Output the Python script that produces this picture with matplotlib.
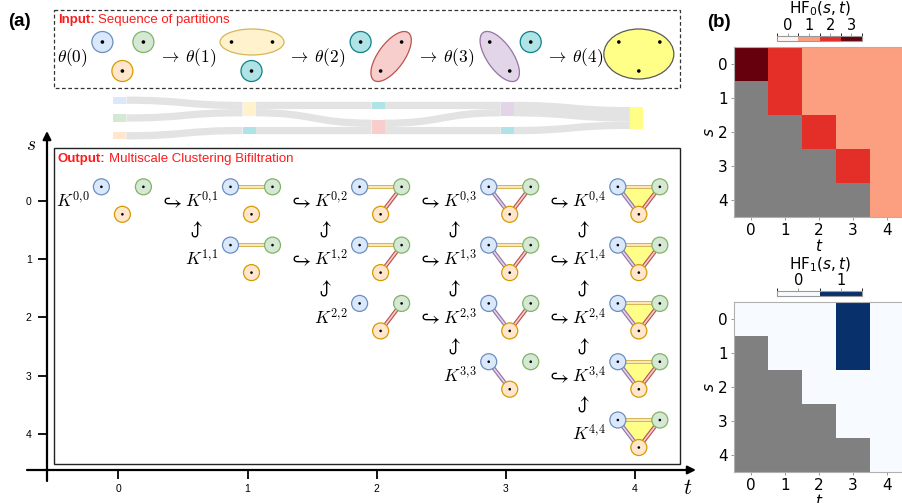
import numpy as np
import matplotlib
matplotlib.use('Agg')
import matplotlib.pyplot as plt
from matplotlib.patches import Ellipse, Circle, Polygon, Rectangle, PathPatch
from matplotlib.path import Path
from matplotlib.colors import ListedColormap, BoundaryNorm

plt.rcParams['mathtext.fontset'] = 'cm'
plt.rcParams['font.family'] = ['Liberation Sans', 'DejaVu Sans']

nan = np.nan
# ---------------- data ----------------
time_ticks = [0, 1, 2, 3, 4]
scale_ticks = [0, 1, 2, 3, 4]
points = ['A', 'B', 'C']
point_colors = {'A': 'blue', 'B': 'green', 'C': 'orange'}
partitions = [
    [['A'], ['B'], ['C']],
    [['A', 'B'], ['C']],
    [['A'], ['B', 'C']],
    [['A', 'C'], ['B']],
    [['A', 'B', 'C']],
]
partition_colors = [
    ['blue', 'green', 'orange'],
    ['yellow', 'teal'],
    ['teal', 'red'],
    ['purple', 'teal'],
    ['lemon'],
]
edge_color_names = {('A', 'B'): 'yellow', ('B', 'C'): 'red', ('A', 'C'): 'purple'}
hf0_values = [[3, 2, 1, 1, 1],
              [nan, 2, 1, 1, 1],
              [nan, nan, 2, 1, 1],
              [nan, nan, nan, 2, 1],
              [nan, nan, nan, nan, 1]]
hf1_values = [[0, 0, 0, 1, 0],
              [nan, 0, 0, 1, 0],
              [nan, nan, 0, 0, 0],
              [nan, nan, nan, 0, 0],
              [nan, nan, nan, nan, 0]]
hf0_levels = [0, 1, 2, 3]
hf1_levels = [0, 1]
hf_tick_labels = ['0', '1', '2', '3', '4']

# ---------------- style ----------------
PALETTE = {
    'blue': ('#dae8fc', '#6c8ebf'),
    'green': ('#d5e8d4', '#82b366'),
    'orange': ('#ffe6cc', '#d79b00'),
    'yellow': ('#fff2cc', '#d6b656'),
    'teal': ('#b0e3e6', '#0e8088'),
    'red': ('#f8cecc', '#b85450'),
    'purple': ('#e1d5e7', '#9673a6'),
    'lemon': ('#ffff88', '#5a5a5a'),
}
HF0_COLORS = ['#fff5f0', '#fc9f81', '#e32f27', '#67000d']
HF1_COLORS = ['#f7fbff', '#08306b']
GRAY = '#808080'
RED = '#ff1a1a'

W, H = 902, 503
fig = plt.figure(figsize=(W / 100, H / 100), dpi=100)


def box(x0, y0, x1, y1):
    return [x0 / W, 1 - y1 / H, (x1 - x0) / W, (y1 - y0) / H]


# ---------------- lower (s,t) axes ----------------
ax = fig.add_axes(box(47, 133, 695, 470))
ax.set_xlim(-0.553, 4.466)
ax.set_ylim(4.617, -1.163)
ax.set_facecolor('none')
for sp in ax.spines.values():
    sp.set_visible(False)
ax.set_xticks(time_ticks)
ax.set_yticks(scale_ticks)
ax.tick_params(axis='both', direction='out', length=6.5, width=1.3,
               labelsize=7.5, color='black')
ax.tick_params(axis='x', pad=3.5)
ax.tick_params(axis='y', pad=4.5)

# ---------------- heatmaps ----------------
hm0 = fig.add_axes(box(734, 47, 904, 217))
hm1 = fig.add_axes(box(734, 302, 904, 472))
cb0 = fig.add_axes(box(777, 35.5, 862, 40.5))
cb1 = fig.add_axes(box(777, 291, 862, 296))


def heatmap(hax, cax, values, colors, levels, title, title_y):
    cmap = ListedColormap(colors)
    cmap.set_bad(GRAY)
    norm = BoundaryNorm(np.arange(-0.5, len(levels)), len(levels))
    data = np.ma.masked_invalid(np.array(values, dtype=float))
    im = hax.imshow(data, cmap=cmap, norm=norm, aspect='auto',
                    interpolation='nearest')
    hax.set_xticks(range(len(hf_tick_labels)))
    hax.set_xticklabels(hf_tick_labels, family='DejaVu Sans')
    hax.set_yticks(range(len(hf_tick_labels)))
    hax.set_yticklabels(hf_tick_labels, family='DejaVu Sans')
    hax.tick_params(labelsize=11, length=2.5, width=0.6, color='#888888', pad=2)
    hax.set_xlabel('$t$', fontsize=11, labelpad=0, math_fontfamily='dejavusans')
    hax.set_ylabel('$s$', fontsize=11, labelpad=1, math_fontfamily='dejavusans')
    for sp in hax.spines.values():
        sp.set_color('#b0b0b0')
        sp.set_linewidth(0.8)
    cb = fig.colorbar(im, cax=cax, orientation='horizontal', ticks=levels)
    cax.xaxis.set_ticks_position('top')
    cax.tick_params(labelsize=10.5, length=2, width=0.6, color='#888888', pad=0)
    for lab in cax.get_xticklabels():
        lab.set_family('DejaVu Sans')
    cb.outline.set_edgecolor('#999999')
    cb.outline.set_linewidth(0.8)
    bb = cax.get_position()
    fig.text(bb.x0 + bb.width / 2, 1 - (title_y / H), title,
             fontsize=11, ha='center', va='center', family='DejaVu Sans',
             math_fontfamily='dejavusans')


heatmap(hm0, cb0, hf0_values, HF0_COLORS, hf0_levels, r'HF$_0(s,t)$', 9)
heatmap(hm1, cb1, hf1_values, HF1_COLORS, hf1_levels, r'HF$_1(s,t)$', 265)

# ---------------- drawing canvas (pixel coords) ----------------
cv = fig.add_axes([0, 0, 1, 1], zorder=10)
cv.set_xlim(0, W)
cv.set_ylim(H, 0)
cv.axis('off')


def to_px(t, s):
    x, y = ax.transData.transform((t, s))
    return x, H - y


def cx(t):
    return to_px(t, 0)[0] + 4


renderer = fig.canvas.get_renderer()


def two_part(x, y, bold, rest):
    t1 = cv.text(x, y, bold, color=RED, fontweight='bold', fontsize=9.5, va='center')
    bb = t1.get_window_extent(renderer)
    cv.text(x + bb.width + 3, y, rest, color=RED, fontsize=9.5, va='center')


cv.text(8, 21, '(a)', fontsize=13.5, fontweight='bold', va='center')
cv.text(707, 22, '(b)', fontsize=13.5, fontweight='bold', va='center')

# boxes
cv.add_patch(Rectangle((54, 10), 626, 78, fill=False, ec='#333333', lw=0.9,
                       ls=(0, (3, 2))))
cv.add_patch(Rectangle((54, 148), 626, 316, fill=False, ec='#222222', lw=1.0))
two_part(58, 20, 'Input:', 'Sequence of partitions')
two_part(58, 159, 'Output:', 'Multiscale Clustering Bifiltration')

# axis arrows
arrow_kw = dict(arrowstyle='-|>', lw=1.6, color='black', mutation_scale=12,
                shrinkA=0, shrinkB=0)
cv.annotate('', xy=(696, 470), xytext=(27, 470), arrowprops=arrow_kw)
cv.annotate('', xy=(47, 131), xytext=(47, 481), arrowprops=arrow_kw)
cv.text(688, 489, '$t$', fontsize=16, ha='center', va='center')
cv.text(31, 146, '$s$', fontsize=14, ha='center', va='center')

# ---------------- input partitions ----------------
IN_Y = 57
in_off = {'A': (-20, -15), 'B': (21, -15), 'C': (0, 14)}
for t, (parts, cols) in enumerate(zip(partitions, partition_colors)):
    x0 = cx(t)
    label = r'$\theta(%d)$' % t if t == 0 else r'$\rightarrow\;\theta(%d)$' % t
    cv.text(x0 - 35, IN_Y + 1, label, ha='right', va='center', fontsize=12.5)
    for members, cname in zip(parts, cols):
        fill, edge = PALETTE[cname]
        pts = np.array([(x0 + in_off[m][0], IN_Y + in_off[m][1]) for m in members])
        if len(members) == 1:
            patch = Circle(pts[0], 10.5, fc=fill, ec=edge, lw=0.9)
        elif len(members) == 2:
            mid = pts.mean(axis=0)
            d = pts[1] - pts[0]
            L = np.hypot(*d)
            ang = np.degrees(np.arctan2(d[1], d[0]))
            patch = Ellipse(mid, L + 23, 26, angle=ang, fc=fill, ec=edge, lw=0.9)
        else:
            patch = Ellipse((x0, IN_Y - 3), 70, 50, fc=fill, ec=edge, lw=0.9)
        cv.add_patch(patch)
        for p in pts:
            cv.add_patch(Circle(p, 1.8, fc='black', ec='none'))

# ---------------- sankey ----------------
UNIT, GAP, MID, NODE_W = 7.3, 10.5, 118, 13
node_boxes = []
for t, parts in enumerate(partitions):
    x = cx(t) - 2.5
    total = sum(len(p) for p in parts) * UNIT + (len(parts) - 1) * GAP
    y = MID - total / 2
    boxes = []
    for p, cname in zip(parts, partition_colors[t]):
        h = len(p) * UNIT
        cv.add_patch(Rectangle((x - NODE_W / 2, y), NODE_W, h,
                               fc=PALETTE[cname][0], ec='none', zorder=3))
        boxes.append((x - NODE_W / 2, x + NODE_W / 2, y, y + h))
        y += h + GAP
    node_boxes.append(boxes)

for t in range(len(partitions) - 1):
    src, dst = partitions[t], partitions[t + 1]
    flows = [(i, j, len(set(a) & set(b))) for i, a in enumerate(src)
             for j, b in enumerate(dst) if set(a) & set(b)]
    out_used = [0.0] * len(src)
    in_used = [0.0] * len(dst)
    src_pos, dst_pos = {}, {}
    for i, j, v in sorted(flows, key=lambda f: (f[0], f[1])):
        src_pos[(i, j)] = node_boxes[t][i][2] + out_used[i]
        out_used[i] += v * UNIT
    for i, j, v in sorted(flows, key=lambda f: (f[1], f[0])):
        dst_pos[(i, j)] = node_boxes[t + 1][j][2] + in_used[j]
        in_used[j] += v * UNIT
    for i, j, v in flows:
        xs = node_boxes[t][i][1]
        xt = node_boxes[t + 1][j][0]
        ys0 = src_pos[(i, j)]
        ys1 = ys0 + v * UNIT
        yt0 = dst_pos[(i, j)]
        yt1 = yt0 + v * UNIT
        xm = (xs + xt) / 2
        verts = [(xs, ys0), (xm, ys0), (xm, yt0), (xt, yt0), (xt, yt1),
                 (xm, yt1), (xm, ys1), (xs, ys1), (xs, ys0)]
        codes = [Path.MOVETO, Path.CURVE4, Path.CURVE4, Path.CURVE4, Path.LINETO,
                 Path.CURVE4, Path.CURVE4, Path.CURVE4, Path.CLOSEPOLY]
        cv.add_patch(PathPatch(Path(verts, codes), fc='#e3e3e3', ec='none', zorder=2))

# ---------------- bifiltration complexes ----------------
cx_off = {'A': (-21, -14), 'B': (21, -14), 'C': (0, 13.5)}
for s in scale_ticks:
    for t in time_ticks:
        if s > t:
            continue
        x0 = cx(t)
        y0 = to_px(0, s)[1]
        pos = {m: (x0 + cx_off[m][0], y0 + cx_off[m][1]) for m in points}
        edges, tris = set(), set()
        for r in range(s, t + 1):
            for c in partitions[r]:
                if len(c) < 2:
                    continue
                for a in range(len(c)):
                    for b in range(a + 1, len(c)):
                        edges.add(tuple(sorted((c[a], c[b]))))
                if len(c) == 3:
                    tris.add(tuple(sorted(c)))
        for tri in tris:
            cv.add_patch(Polygon([pos[m] for m in tri], closed=True,
                                 fc=PALETTE['lemon'][0], ec='none', zorder=4))
        for e in edges:
            fill, edge = PALETTE[edge_color_names[e]]
            xs_ = [pos[e[0]][0], pos[e[1]][0]]
            ys_ = [pos[e[0]][1], pos[e[1]][1]]
            cv.plot(xs_, ys_, color=edge, lw=2.9, solid_capstyle='butt', zorder=5)
            cv.plot(xs_, ys_, color=fill, lw=1.2, solid_capstyle='butt', zorder=6)
        for m in points:
            fill, edge = PALETTE[point_colors[m]]
            cv.add_patch(Circle(pos[m], 8, fc=fill, ec=edge, lw=0.9, zorder=7))
            cv.add_patch(Circle(pos[m], 1.3, fc='black', ec='none', zorder=8))
        klab = cv.text(x0 - 33, y0 + 6.5, r'$K^{%d{,}%d}$' % (s, t), ha='right',
                       va='baseline', fontsize=12.5)
        if t > s:
            kb = klab.get_window_extent(renderer)
            cv.text(kb.x0 - 3, y0 + 7, r'$\hookrightarrow$', ha='right',
                    va='baseline', fontsize=15, math_fontfamily='stix')
        if s + 1 <= t:
            ym = (y0 + to_px(0, s + 1)[1]) / 2 + 1
            cv.text(x0 - 54, ym, r'$\hookrightarrow$', rotation=90, ha='center',
                    va='center', fontsize=15, math_fontfamily='stix')

fig.savefig('out.png', dpi=100)
